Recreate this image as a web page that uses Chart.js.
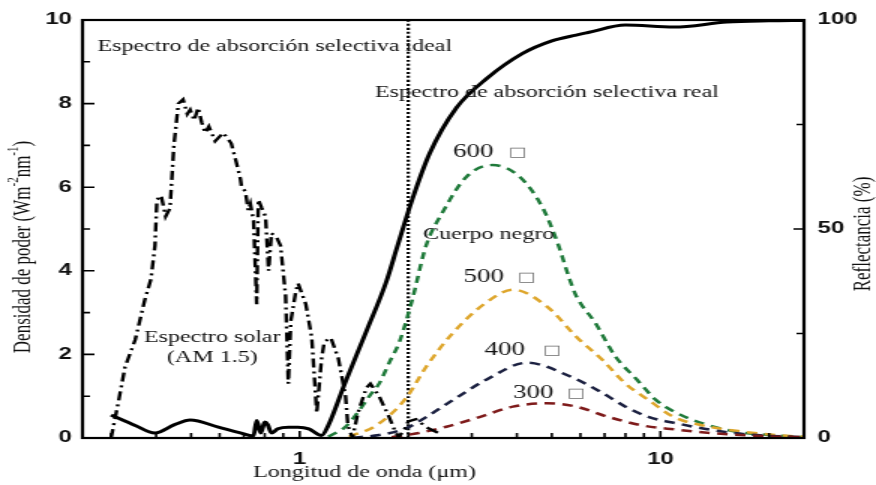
<!DOCTYPE html>
<html lang="es">
<head>
<meta charset="utf-8">
<title>Espectro de absorción selectiva</title>
<script src="https://cdn.jsdelivr.net/npm/chart.js@4.4.1/dist/chart.umd.min.js"></script>
<style>
  html, body { margin: 0; padding: 0; background: #fff; }
</style>
</head>
<body>
<!-- la figura original esta estirada en horizontal: el lienzo se dibuja a 584 px y se muestra a 876 px -->
<canvas id="grafica" width="584" height="485" style="width:876px;height:485px"></canvas>
<script>
// Ejes
const ticksX = [0.3, 0.4, 0.5, 0.6, 0.7, 0.8, 0.9, 1, 2, 3, 4, 5, 6, 7, 8, 9, 10, 20];
const etiquetasX = [1, 10];
const etiquetasY = [0, 2, 4, 6, 8, 10];
const etiquetasY2 = [0, 50, 100];

// Espectro solar AM 1.5 (W m-2 nm-1)
const longitudSolar = [0.30, 0.315, 0.328, 0.35, 0.372, 0.387, 0.397, 0.402, 0.413, 0.425, 0.437, 0.448, 0.461, 0.475,
  0.488, 0.497, 0.51, 0.523, 0.535, 0.547, 0.56, 0.583, 0.614, 0.646, 0.667, 0.685, 0.69, 0.707, 0.72, 0.73, 0.745,
  0.76, 0.768, 0.785, 0.804, 0.82, 0.835, 0.863, 0.885, 0.914, 0.93, 0.945, 0.975, 0.99, 1.04, 1.08, 1.115, 1.15,
  1.17, 1.22, 1.28, 1.34, 1.36, 1.40, 1.45, 1.53, 1.57, 1.66, 1.77, 1.83, 1.88, 1.95, 2.0, 2.1, 2.25, 2.45];
const densidadSolar = [0, 0.9, 1.7, 2.35, 3.3, 3.8, 4.6, 5.7, 5.8, 5.3, 5.5, 7.0, 8.0, 8.1,
  7.75, 7.85, 7.6, 7.9, 7.55, 7.3, 7.45, 7.1, 7.3, 7.05, 6.6, 6.2, 6.0, 5.9, 5.45, 5.6, 5.2,
  3.2, 5.7, 5.5, 5.3, 4.0, 4.9, 4.8, 4.6, 3.4, 1.3, 2.8, 3.5, 3.7, 3.2, 2.4, 0.6, 1.9,
  2.3, 2.4, 1.9, 1.0, 0.3, 0, 0.6, 1.2, 1.3, 1.0, 0.5, 0.2, 0.02, 0.2, 0.4, 0.45, 0.25, 0.1];

// Reflectancia del absorbedor real (%)
const longitudRefl = [0.30, 0.35, 0.397, 0.45, 0.497, 0.595, 0.68, 0.745, 0.76, 0.78, 0.80, 0.815, 0.835, 0.87,
  0.93, 0.99, 1.06, 1.15, 1.2, 1.34, 1.53, 1.74, 1.86, 2.05, 2.29, 2.72, 3.3, 4.15, 5.0, 5.84, 6.3, 8.0, 10.9,
  15.3, 20, 25];
const reflectancia = [5.5, 3.0, 1.2, 3.2, 4.3, 2.6, 1.3, 0.5, 4.2, 1.2, 3.8, 3.2, 1.2, 2.2,
  2.6, 2.6, 2.2, 0.6, 3.0, 13.5, 25.5, 37.5, 45.5, 57, 68, 79, 86, 92, 95, 96.4, 97, 98.8, 98.3,
  99.5, 99.8, 99.9];

// Cuerpo negro a 600, 500, 400 y 300
const longitud600 = [1.2, 1.34, 1.46, 1.56, 1.66, 1.77, 1.89, 2.05, 2.24, 2.49, 2.9, 3.42, 4.07, 4.72, 5.17, 5.6,
  5.84, 6.6, 7.5, 8.6, 9.75, 11.1, 13.1, 16.3, 20.1, 25];
const cuerpo600 = [0.03, 0.27, 0.65, 1.0, 1.3, 1.8, 2.3, 3.3, 4.6, 5.4, 6.25, 6.53, 6.25, 5.5, 4.7, 3.8,
  3.4, 2.75, 1.95, 1.4, 0.9, 0.6, 0.35, 0.15, 0.07, 0.02];
const longitud500 = [1.37, 1.63, 1.97, 2.24, 2.65, 3.3, 3.9, 4.84, 5.88, 6.9, 8.0, 9.3, 10.9, 13.1, 17, 21, 25];
const cuerpo500 = [0.03, 0.3, 0.95, 1.7, 2.5, 3.25, 3.55, 3.15, 2.4, 1.87, 1.3, 0.9, 0.5, 0.3, 0.15, 0.07, 0.03];
const longitud400 = [1.4, 1.66, 1.97, 2.24, 2.65, 3.3, 4.26, 5.7, 6.9, 8.0, 9.3, 11.1, 13.7, 17.7, 25];
const cuerpo400 = [0.01, 0.07, 0.23, 0.5, 0.9, 1.4, 1.8, 1.45, 1.08, 0.75, 0.5, 0.35, 0.2, 0.08, 0.02];
const longitud300 = [1.8, 2.14, 2.55, 3.15, 3.9, 4.84, 5.84, 7.2, 8.9, 11.1, 13.7, 20, 25];
const cuerpo300 = [0.02, 0.12, 0.27, 0.5, 0.75, 0.83, 0.75, 0.5, 0.3, 0.2, 0.12, 0.04, 0.02];

// Limite ideal de absorcion selectiva
const limiteX = [2, 2];
const limiteY = [0, 10];

const colores = {
  negro: '#000000',
  verde: '#1f7a3a',
  amarillo: '#dea62c',
  azul: '#1b2040',
  rojo: '#7e1b1b',
  gris: '#6e6e6e'
};

const serif = "'Liberation Serif', 'Times New Roman', serif";
const sans = "'Liberation Sans', Arial, sans-serif";

function puntos(xs, ys) {
  return xs.map((x, i) => ({ x: x, y: ys[i] }));
}

function curva(etiqueta, xs, ys, color, dash, eje) {
  return {
    label: etiqueta,
    data: puntos(xs, ys),
    yAxisID: eje || 'y',
    borderColor: color,
    borderWidth: 2.5,
    borderDash: dash,
    pointRadius: 0,
    fill: false,
    cubicInterpolationMode: 'monotone'
  };
}

// textos sobre el area del grafico
const anotaciones = [
  { t: 'Espectro de absorción selectiva ideal', x: 65, y: 47, size: 16 },
  { t: 'Espectro de absorción selectiva real', x: 250, y: 93, size: 16 },
  { t: 'Cuerpo negro', x: 282, y: 235, size: 16 },
  { t: 'Espectro solar', x: 141.5, y: 338, size: 16, align: 'center' },
  { t: '(AM 1.5)', x: 141.5, y: 358, size: 16, align: 'center' },
  { t: '600', x: 302, y: 152, size: 18, caja: 339 },
  { t: '500', x: 309, y: 277, size: 18, caja: 345 },
  { t: '400', x: 323, y: 350, size: 18, caja: 362 },
  { t: '300', x: 342, y: 393, size: 18, caja: 378 }
];

// marco completo y marcas hacia dentro
const marcoPlugin = {
  id: 'marco',
  afterDatasetsDraw(chart) {
    const { ctx, chartArea: a, scales } = chart;
    ctx.save();
    ctx.strokeStyle = colores.negro;
    ctx.lineWidth = 2.2;
    ctx.strokeRect(a.left, a.top, a.right - a.left, a.bottom - a.top);
    ctx.lineWidth = 1.6;
    ctx.beginPath();
    ticksX.forEach(v => {
      const px = scales.x.getPixelForValue(v);
      const len = etiquetasX.includes(v) ? 7 : 5;
      ctx.moveTo(px, a.bottom);
      ctx.lineTo(px, a.bottom - len);
    });
    for (let v = 1; v < 10; v++) {
      const py = scales.y.getPixelForValue(v);
      const len = etiquetasY.includes(v) ? 8 : 5;
      ctx.moveTo(a.left, py);
      ctx.lineTo(a.left + len, py);
    }
    [25, 50, 75].forEach(v => {
      const py = scales.y1.getPixelForValue(v);
      const len = etiquetasY2.includes(v) ? 7 : 5;
      ctx.moveTo(a.right, py);
      ctx.lineTo(a.right - len, py);
    });
    ctx.stroke();
    ctx.restore();
  }
};

function textoConExponentes(ctx, partes, size) {
  const normal = `${size}px ${serif}`;
  const peque = `${Math.round(size * 0.62)}px ${serif}`;
  let total = 0;
  partes.forEach(p => {
    ctx.font = p.sup ? peque : normal;
    total += ctx.measureText(p.t).width;
  });
  let x = -total / 2;
  partes.forEach(p => {
    ctx.font = p.sup ? peque : normal;
    ctx.fillText(p.t, x, p.sup ? -size * 0.38 : 0);
    x += ctx.measureText(p.t).width;
  });
}

const textosPlugin = {
  id: 'textos',
  afterDraw(chart) {
    const { ctx } = chart;
    ctx.save();
    ctx.fillStyle = '#111';
    ctx.textBaseline = 'middle';

    anotaciones.forEach(a => {
      ctx.font = `${a.size}px ${serif}`;
      ctx.textAlign = a.align || 'left';
      ctx.fillText(a.t, a.x, a.y);
      if (a.caja) {
        ctx.save();
        ctx.fillStyle = colores.gris;
        ctx.font = `13px 'DejaVu Sans', sans-serif`;
        ctx.textAlign = 'left';
        ctx.fillText('□', a.caja, a.y + 1);
        ctx.restore();
      }
    });

    // titulo del eje x
    ctx.font = `16px ${serif}`;
    ctx.textAlign = 'center';
    ctx.fillText('Longitud de onda (μm)', 243, 473);

    // titulo del eje y izquierdo
    ctx.save();
    ctx.translate(16, 247);
    ctx.rotate(-Math.PI / 2);
    ctx.textAlign = 'left';
    textoConExponentes(ctx, [
      { t: 'Densidad de poder (Wm' },
      { t: '-2', sup: true },
      { t: 'nm' },
      { t: '-1', sup: true },
      { t: ')' }
    ], 17);
    ctx.restore();

    // titulo del eje y derecho
    ctx.save();
    ctx.translate(576, 234);
    ctx.rotate(-Math.PI / 2);
    ctx.font = `17px ${serif}`;
    ctx.textAlign = 'center';
    ctx.fillText('Reflectancia (%)', 0, 0);
    ctx.restore();

    ctx.restore();
  }
};

const solar = curva('Espectro solar', longitudSolar, densidadSolar, colores.negro, [9, 4, 2, 4]);
solar.cubicInterpolationMode = 'default';
solar.tension = 0;
solar.borderWidth = 2.4;

const real = curva('Reflectancia', longitudRefl, reflectancia, colores.negro, [], 'y1');
real.borderWidth = 3;

const limite = curva('Ideal', limiteX, limiteY, colores.negro, [2, 2]);
limite.borderWidth = 2.2;
limite.borderCapStyle = 'butt';

new Chart(document.getElementById('grafica'), {
  type: 'line',
  data: {
    datasets: [
      solar,
      curva('300', longitud300, cuerpo300, colores.rojo, [7, 5]),
      curva('400', longitud400, cuerpo400, colores.azul, [7, 5]),
      curva('500', longitud500, cuerpo500, colores.amarillo, [7, 5]),
      curva('600', longitud600, cuerpo600, colores.verde, [7, 5]),
      real,
      limite
    ]
  },
  options: {
    responsive: false,
    devicePixelRatio: 1,
    animation: false,
    layout: { padding: { top: 20, left: 0, right: 0, bottom: 0 } },
    plugins: {
      legend: { display: false },
      tooltip: { enabled: false }
    },
    scales: {
      x: {
        type: 'logarithmic',
        min: 0.25,
        max: 25,
        grid: { display: false, drawTicks: false },
        border: { display: false },
        afterBuildTicks: scale => { scale.ticks = ticksX.map(v => ({ value: v })); },
        afterFit: scale => { scale.height = 47; },
        ticks: {
          autoSkip: false,
          maxRotation: 0,
          padding: 12,
          color: '#111',
          font: { family: sans, size: 16, weight: 'bold' },
          callback: value => (etiquetasX.includes(value) ? String(value) : '')
        }
      },
      y: {
        position: 'left',
        min: 0,
        max: 10,
        grid: { display: false, drawTicks: false },
        border: { display: false },
        afterFit: scale => { scale.width = 55; },
        ticks: {
          stepSize: 1,
          padding: 7,
          color: '#111',
          font: { family: sans, size: 16, weight: 'bold' },
          callback: value => (etiquetasY.includes(value) ? String(value) : '')
        }
      },
      y1: {
        position: 'right',
        min: 0,
        max: 100,
        grid: { display: false, drawTicks: false },
        border: { display: false },
        afterFit: scale => { scale.width = 48; },
        ticks: {
          stepSize: 25,
          padding: 9,
          color: '#111',
          font: { family: sans, size: 16, weight: 'bold' },
          callback: value => (etiquetasY2.includes(value) ? String(value) : '')
        }
      }
    }
  },
  plugins: [marcoPlugin, textosPlugin]
});
</script>
</body>
</html>
